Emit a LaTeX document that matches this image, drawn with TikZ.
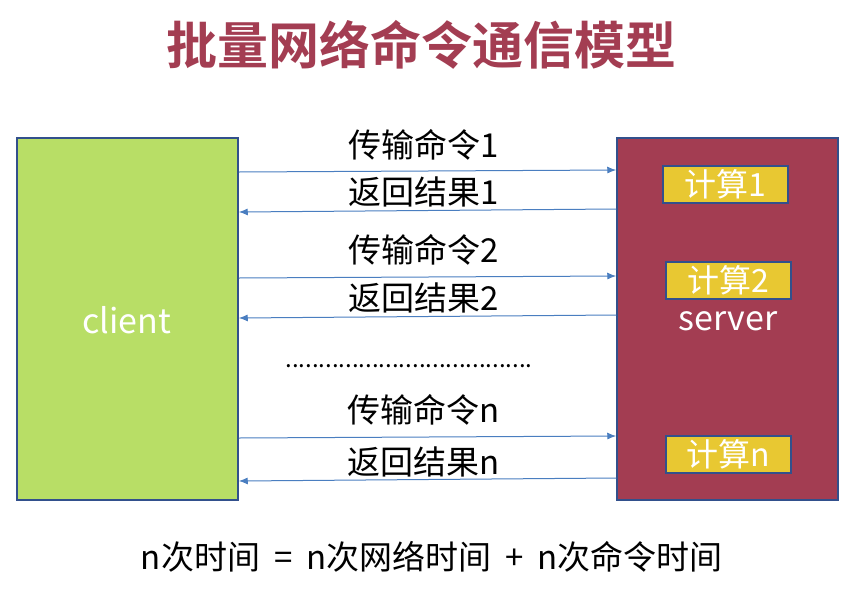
\documentclass[tikz,border=0pt]{standalone}
\usepackage{fontspec}
\setmainfont{Noto Sans CJK SC}
\newfontfamily\cjkbold{Noto Sans CJK SC Bold}
\usetikzlibrary{arrows.meta}
\definecolor{clientgreen}{RGB}{184,222,102}
\definecolor{serverred}{RGB}{163,61,82}
\definecolor{calcyellow}{RGB}{232,200,50}
\definecolor{edgeblue}{RGB}{50,80,140}
\definecolor{arrowblue}{RGB}{74,126,192}
\definecolor{titlered}{RGB}{163,61,82}
\tikzset{
  bigbox/.style={draw=edgeblue,line width=1.5pt,minimum width=221pt,minimum height=362pt,inner sep=0pt},
  calcbox/.style={draw=edgeblue,line width=2pt,fill=calcyellow,minimum width=125pt,minimum height=37pt,inner sep=0pt,text=white,font=\fontsize{32}{36}\selectfont},
  lbl/.style={font=\fontsize{33}{38}\selectfont,text=black,inner sep=0pt},
  msg/.style={draw=arrowblue,line width=1pt,-{Latex[length=9pt,width=7pt]}}
}
\begin{document}
\begin{tikzpicture}[x=1pt,y=-1pt]
\useasboundingbox (0,0) rectangle (856,592);
\node[font=\cjkbold\fontsize{51}{56}\selectfont,text=titlered,inner sep=0pt] (title) at (421,45) {批量网络命令通信模型};
\node[bigbox,fill=clientgreen] (client) at (127.5,319) {};
\node[bigbox,fill=serverred] (server) at (727.5,319) {};
\node[text=white,font=\fontsize{34}{38}\selectfont,inner sep=0pt] (clabel) at (127,320) {client};
\node[text=white,font=\fontsize{34}{38}\selectfont,inner sep=0pt] (slabel) at (728,321) {server};
\node[calcbox] (c1) at (725,184.5) {计算1};
\node[calcbox] (c2) at (728,280.5) {计算2};
\node[calcbox] (cn) at (728,454.5) {计算n};
\coordinate (a1s) at (client.east |- 0,172);
\coordinate (a1e) at (server.west |- 0,170);
\coordinate (b1s) at (server.west |- 0,209);
\coordinate (b1e) at (client.east |- 0,212);
\coordinate (a2s) at (client.east |- 0,278);
\coordinate (a2e) at (server.west |- 0,276);
\coordinate (b2s) at (server.west |- 0,315);
\coordinate (b2e) at (client.east |- 0,318);
\coordinate (ans) at (client.east |- 0,438);
\coordinate (ane) at (server.west |- 0,436);
\coordinate (bns) at (server.west |- 0,478);
\coordinate (bne) at (client.east |- 0,481);
\draw[msg] (a1s) -- (a1e);
\draw[msg] (b1s) -- (b1e);
\draw[msg] (a2s) -- (a2e);
\draw[msg] (b2s) -- (b2e);
\draw[msg] (ans) -- (ane);
\draw[msg] (bns) -- (bne);
\node[lbl] (t1) at (424,145) {传输命令1};
\node[lbl] (r1) at (424,192) {返回结果1};
\node[lbl] (t2) at (424,250) {传输命令2};
\node[lbl] (r2) at (424,298) {返回结果2};
\node[lbl] (dots) at (409,366) {\fontsize{24}{28}\selectfont .....................................};
\node[lbl] (tn) at (424,410) {传输命令n};
\node[lbl] (rn) at (424,462) {返回结果n};
\node[lbl,font=\fontsize{33}{38}\selectfont] (formula) at (432,557) {n次时间\hspace{14pt}=\hspace{14pt}n次网络时间\hspace{14pt}+\hspace{14pt}n次命令时间};
\end{tikzpicture}
\end{document}
